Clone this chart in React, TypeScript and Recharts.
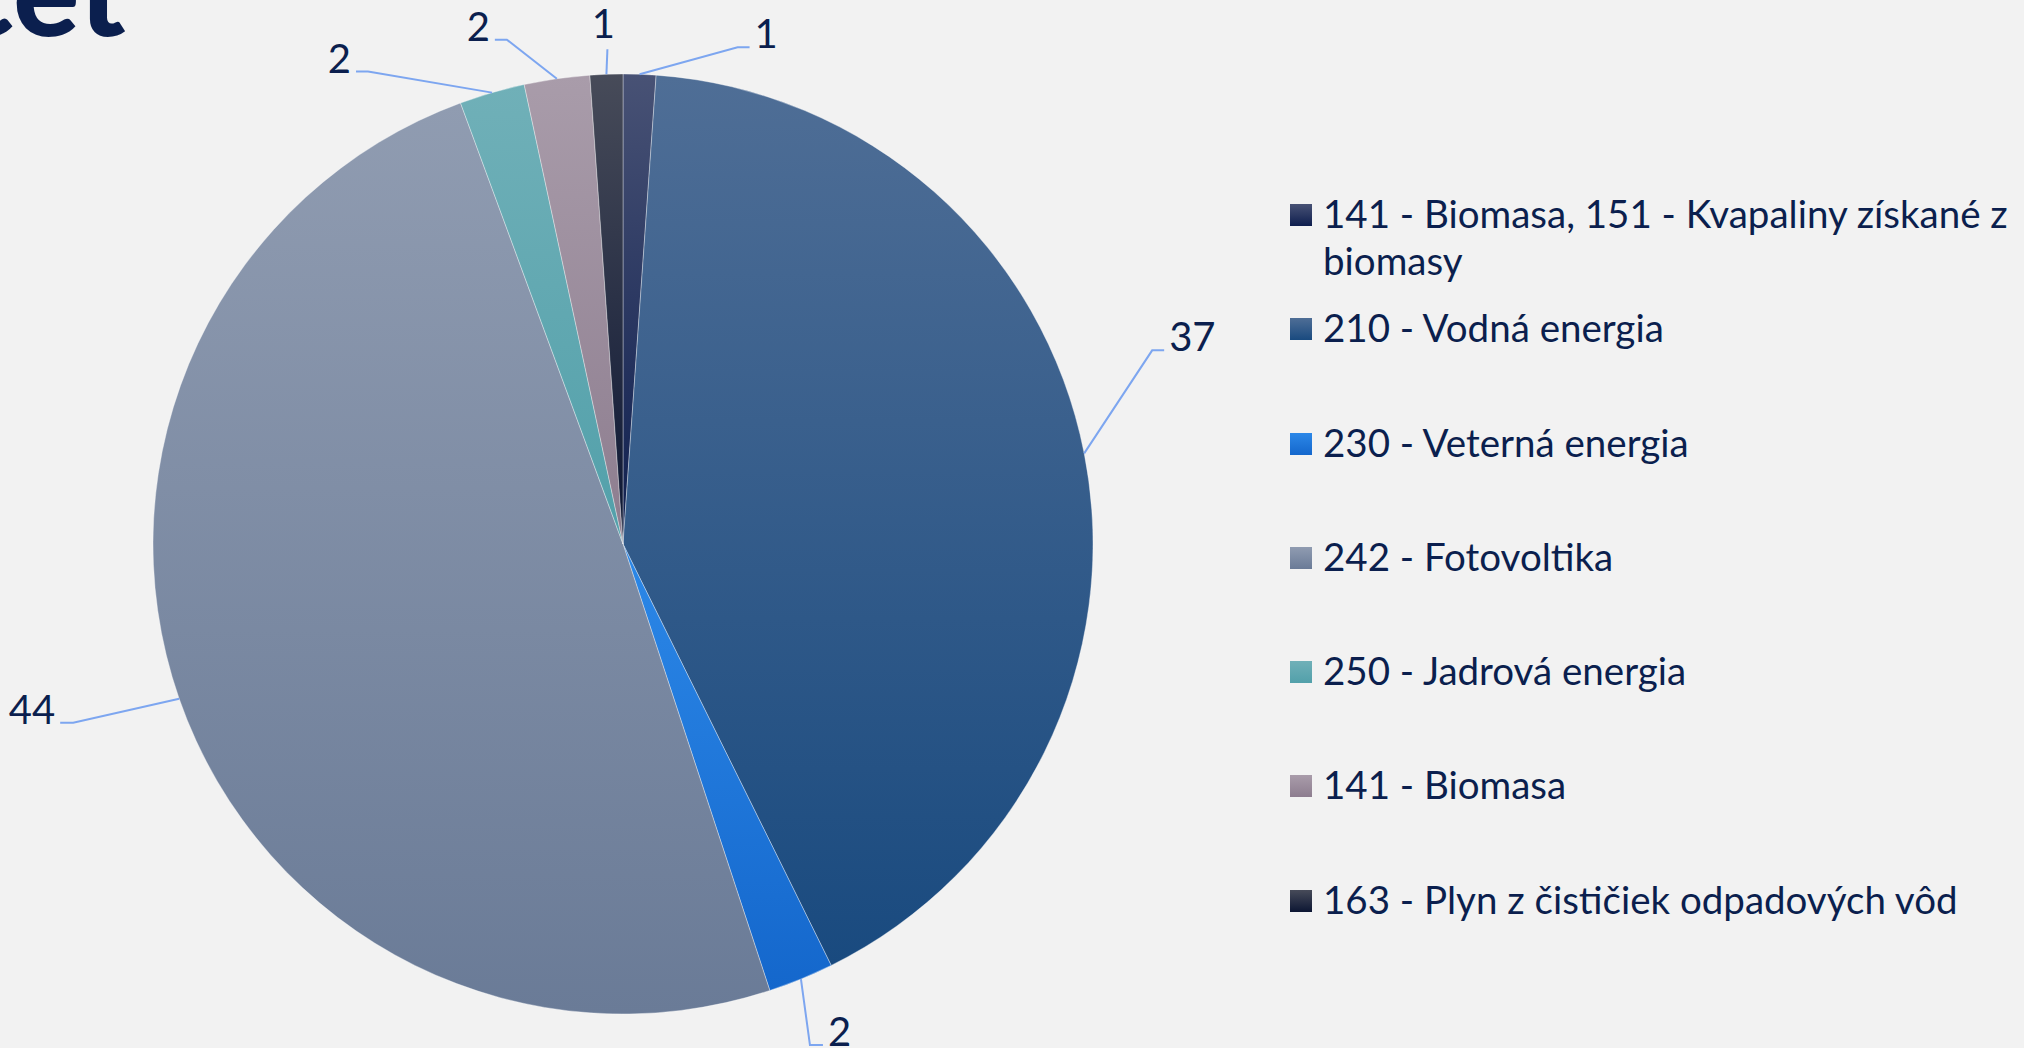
import { PieChart, Pie, Cell, Legend } from "recharts";

const categories = [
	"141 - Biomasa, 151 - Kvapaliny získané z biomasy",
	"210 - Vodná energia",
	"230 - Veterná energia",
	"242 - Fotovoltika",
	"250 - Jadrová energia",
	"141 - Biomasa",
	"163 - Plyn z čističiek odpadových vôd",
];
const counts = [1, 37, 2, 44, 2, 2, 1];

// top / bottom colours of each slice gradient
const topColors = ["#485275", "#4f6e96", "#2c88e8", "#909cb1", "#70b0b8", "#a99caa", "#474b59"];
const bottomColors = ["#0e1e4e", "#194a7f", "#1467cc", "#6a7b97", "#52a0aa", "#8d7d8f", "#0c1633"];

// where each label's leader line bends, relative to the slice edge, and the short tail
const labelBend = [
	{ dx: 98, dy: -27, tail: 12 },
	{ dx: 68, dy: -103, tail: 12 },
	{ dx: 9, dy: 66, tail: 13 },
	{ dx: -106, dy: 24, tail: -13 },
	{ dx: -124, dy: -21, tail: -12 },
	{ dx: -50, dy: -39, tail: -12 },
	{ dx: 1, dy: -25, tail: 0 },
];

const data = categories.map((name, i) => ({ name, value: counts[i] }));

const TEXT = "#0b1f4e";
const LINE = "#7da6f0";
const FONT = "Lato, 'Open Sans', sans-serif";
const RAD = Math.PI / 180;

const renderLabel = (props: any) => {
	const { cx, cy, midAngle, outerRadius, index, value } = props;
	const ex = cx + outerRadius * Math.cos(-midAngle * RAD);
	const ey = cy + outerRadius * Math.sin(-midAngle * RAD);
	const b = labelBend[index];
	const bx = ex + b.dx;
	const by = ey + b.dy;
	const tx = bx + b.tail;
	let textX = tx + (b.tail >= 0 ? 5 : -5);
	let textY = by + 1;
	let anchor: "start" | "end" | "middle" = b.tail >= 0 ? "start" : "end";
	if (b.tail === 0) {
		textX = bx - 4;
		textY = by - 11;
		anchor = "middle";
	}
	return (
		<g key={`lbl-${index}`}>
			<polyline
				points={`${ex},${ey} ${bx},${by} ${tx},${by}`}
				fill="none"
				stroke={LINE}
				strokeWidth={2}
			/>
			<text
				x={textX}
				y={textY}
				textAnchor={anchor}
				fill={TEXT}
				fontSize={40}
				fontFamily={FONT}
			>
				{value}
			</text>
		</g>
	);
};

const renderLegend = () => {
	return (
		<div style={{ fontFamily: FONT, fontSize: 38.5, color: TEXT, whiteSpace: "nowrap" }}>
			{categories.map((name, i) => (
				<div
					key={name}
					style={{ position: "relative", height: 114.3, paddingLeft: 33, lineHeight: "47px" }}
				>
					<span
						style={{
							position: "absolute",
							left: 0,
							top: 14,
							width: 22,
							height: 22,
							background: `linear-gradient(${topColors[i]}, ${bottomColors[i]})`,
						}}
					/>
					{i === 0 ? (
						<>
							<div>141 - Biomasa, 151 - Kvapaliny získané z</div>
							<div>biomasy</div>
						</>
					) : (
						<div>{name}</div>
					)}
				</div>
			))}
		</div>
	);
};

export default function App() {
	return (
		<div
			style={{
				position: "absolute",
				left: 0,
				top: 0,
				width: 2024,
				height: 1048,
				background: "#f2f2f2",
				overflow: "hidden",
			}}
		>
			<svg
				width={300}
				height={60}
				style={{ position: "absolute", left: 0, top: 0 }}
			>
				<text
					x={-46}
					y={36}
					fontSize={124}
					fontWeight={900}
					fontFamily={FONT}
					fill={TEXT}
				>
					cet
				</text>
			</svg>
			<PieChart
				width={2024}
				height={1048}
				margin={{ top: 0, right: 0, bottom: 0, left: 0 }}
				style={{ position: "absolute", left: 0, top: 0 }}
			>
				<defs>
					{topColors.map((c, i) => (
						<linearGradient
							key={i}
							id={`slice${i}`}
							x1="0"
							y1="0"
							x2="0"
							y2="1"
						>
							<stop offset="0%" stopColor={c} />
							<stop offset="100%" stopColor={bottomColors[i]} />
						</linearGradient>
					))}
				</defs>
				<Pie
					data={data}
					dataKey="value"
					nameKey="name"
					cx={623}
					cy={544}
					outerRadius={470}
					startAngle={90}
					endAngle={-270}
					stroke="#ffffff"
					strokeOpacity={0.35}
					strokeWidth={1}
					label={renderLabel}
					labelLine={false}
					isAnimationActive={false}
				>
					{data.map((d, i) => (
						<Cell
							key={d.name}
							fill={`url(#slice${i})`}
						/>
					))}
				</Pie>
				<Legend
					layout="vertical"
					align="right"
					verticalAlign="top"
					content={renderLegend}
					wrapperStyle={{ left: 1290, top: 190, width: 734 }}
				/>
			</PieChart>
		</div>
	);
}
